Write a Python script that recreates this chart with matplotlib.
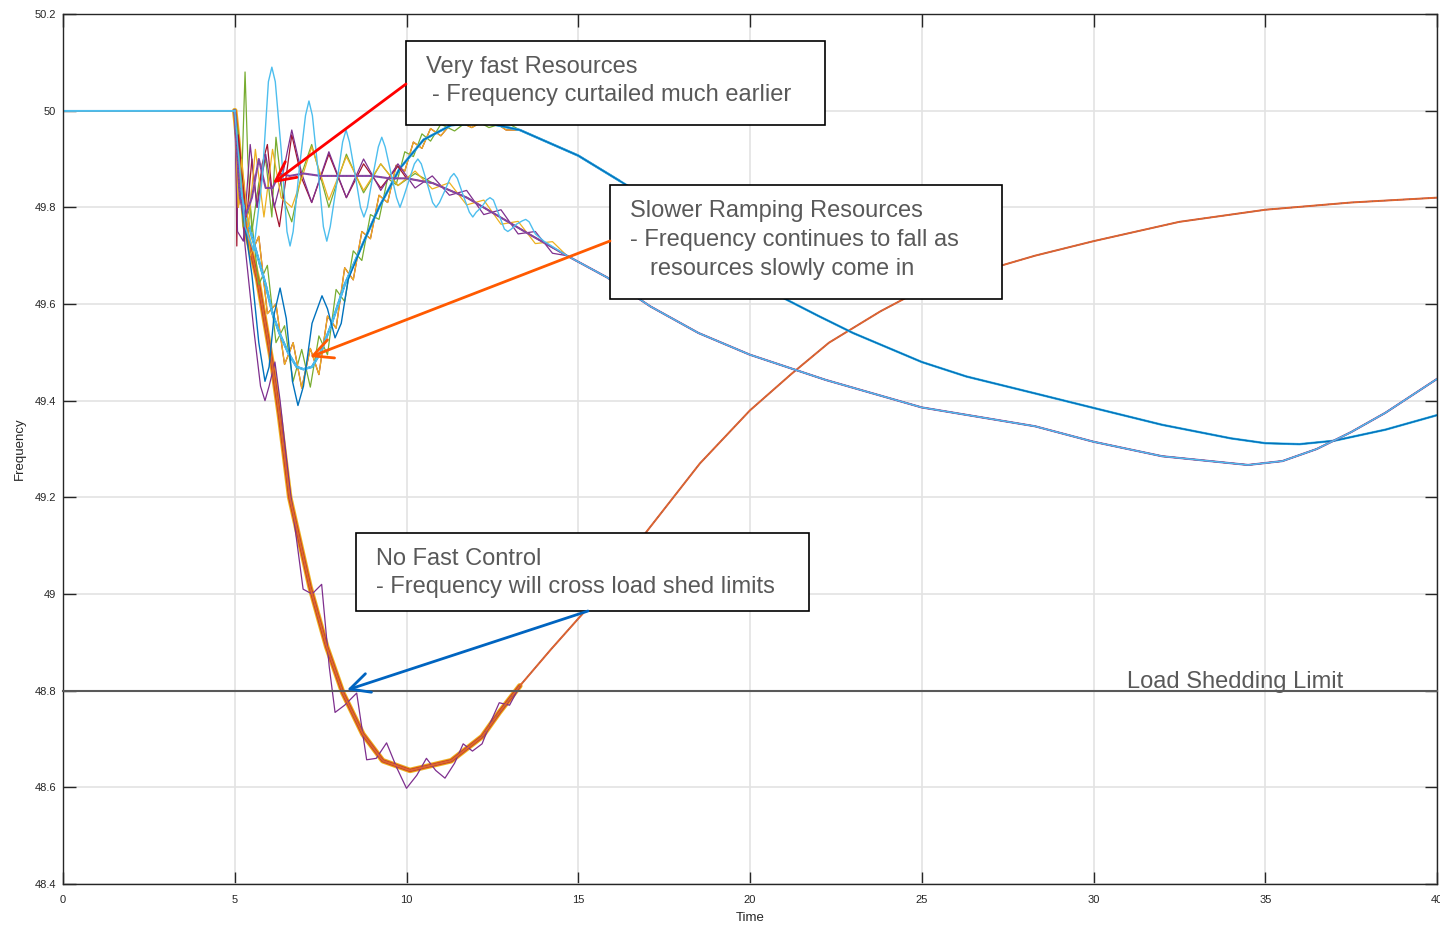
import numpy as np
import matplotlib.pyplot as plt
from matplotlib.patches import Rectangle

W, H = 1440, 925

# MATLAB default line colours
BLUE, ORANGE, YELLOW, PURPLE = '#0072BD', '#D95319', '#EDB120', '#7E2F8E'
GREEN, CYAN, DARKRED = '#77AC30', '#4DBEEE', '#A2142F'

xticks = [0, 5, 10, 15, 20, 25, 30, 35, 40]
yticks = [48.4, 48.6, 48.8, 49.0, 49.2, 49.4, 49.6, 49.8, 50.0, 50.2]
ytick_labels = ['48.4', '48.6', '48.8', '49', '49.2', '49.4', '49.6', '49.8', '50', '50.2']
shed_limit = 48.8

# --- very fast resources ---
fast_t = [0.0, 5.0, 5.05, 5.15, 5.3, 5.5, 5.7, 5.9, 6.1, 6.3, 6.6, 7.0, 7.5, 8.0, 8.5, 9.0,
          9.5, 10.0, 10.77, 11.76, 12.72, 13.68, 14.67, 15.84, 17.1, 18.5, 20.0, 22.2, 25.0,
          28.3, 30.0, 32.0, 34.5, 35.5, 36.5, 37.5, 38.5, 40.0]
fast_f = [50.0, 50.0, 49.93, 49.82, 49.78, 49.82, 49.9, 49.84, 49.84, 49.87, 49.865, 49.87,
          49.865, 49.865, 49.865, 49.865, 49.86, 49.86, 49.85, 49.82, 49.78, 49.74, 49.70,
          49.655, 49.595, 49.54, 49.495, 49.443, 49.386, 49.347, 49.315, 49.285, 49.267,
          49.275, 49.30, 49.335, 49.375, 49.445]
fast_a_t = [0.0, 5.0, 5.08, 5.25, 5.45, 5.65, 5.9, 6.15, 6.4, 6.66, 6.95, 7.24, 7.74, 8.25,
            8.75, 9.25, 9.75, 10.25, 10.75, 11.25, 11.75, 12.25, 12.75, 13.25, 13.75, 14.25,
            14.67]
fast_a_f = [50.0, 50.0, 49.75, 49.73, 49.93, 49.80, 49.91, 49.80, 49.87, 49.96, 49.87, 49.81,
            49.915, 49.82, 49.90, 49.835, 49.89, 49.84, 49.865, 49.825, 49.835, 49.785, 49.795,
            49.745, 49.75, 49.705, 49.70]
fast_b_t = [0.0, 5.0, 5.1, 5.2, 5.4, 5.6, 5.85, 6.1, 6.35, 6.66, 6.95, 7.24, 7.74, 8.25, 8.75,
            9.25, 9.75, 10.25, 10.75, 11.25, 11.75, 12.25, 12.75, 13.25, 13.75, 14.25, 14.67]
fast_b_f = [50.0, 50.0, 49.80, 49.90, 49.76, 49.92, 49.78, 49.92, 49.82, 49.80, 49.86, 49.925,
            49.815, 49.905, 49.835, 49.89, 49.845, 49.875, 49.838, 49.851, 49.805, 49.815,
            49.765, 49.771, 49.725, 49.729, 49.70]
fast_green_t = [0.0, 5.0, 5.1, 5.2, 5.3, 5.38, 5.5, 5.7, 5.9, 6.08, 6.2, 6.4, 6.66, 6.95, 7.24,
                7.74, 8.25, 8.75, 9.25, 9.75, 10.25]
fast_green_f = [50.0, 50.0, 49.88, 49.85, 50.08, 49.90, 49.75, 49.85, 49.90, 49.78, 49.945,
                49.82, 49.77, 49.87, 49.93, 49.80, 49.91, 49.83, 49.89, 49.845, 49.87]
fast_red_t = [0.0, 5.0, 5.03, 5.06, 5.1, 5.2, 5.35, 5.5, 5.65, 5.8, 5.95, 6.1, 6.3, 6.66, 6.95,
              7.24, 7.74, 8.25, 8.75, 9.25, 9.75]
fast_red_f = [50.0, 50.0, 49.98, 49.72, 49.95, 49.88, 49.78, 49.90, 49.80, 49.89, 49.93, 49.82,
              49.76, 49.95, 49.86, 49.81, 49.91, 49.82, 49.89, 49.84, 49.885]
fast_cyan_t = [0.0, 5.0, 5.12, 5.3, 5.55, 5.8, 5.98, 6.08, 6.18, 6.35, 6.52, 6.61, 6.70, 6.88,
               7.06, 7.16, 7.26, 7.42, 7.58, 7.68, 7.78, 7.96, 8.14, 8.24, 8.34, 8.50, 8.66,
               8.76, 8.86, 9.02, 9.18, 9.28, 9.38, 9.55, 9.71, 9.81, 9.91, 10.07, 10.23, 10.33,
               10.43, 10.6, 10.76, 10.86, 10.96, 11.12, 11.28, 11.38, 11.48, 11.65, 11.83,
               11.93, 12.03, 12.18, 12.33, 12.43, 12.53, 12.69, 12.85, 12.95, 13.05, 13.2,
               13.37, 13.47, 13.57, 13.75, 14.0, 14.67]
fast_cyan_f = [50.0, 50.0, 49.90, 49.76, 49.71, 49.86, 50.06, 50.09, 50.06, 49.92, 49.75, 49.72,
               49.75, 49.88, 49.99, 50.02, 49.99, 49.88, 49.76, 49.73, 49.76, 49.845, 49.935,
               49.96, 49.935, 49.87, 49.80, 49.78, 49.80, 49.865, 49.925, 49.945, 49.925, 49.87,
               49.82, 49.80, 49.82, 49.855, 49.89, 49.90, 49.89, 49.85, 49.81, 49.80, 49.81,
               49.835, 49.862, 49.87, 49.86, 49.825, 49.79, 49.78, 49.79, 49.80, 49.815, 49.82,
               49.815, 49.785, 49.755, 49.75, 49.755, 49.765, 49.772, 49.775, 49.77, 49.745,
               49.73, 49.70]

# --- slower ramping resources ---
slow_t = [0.0, 5.0, 5.08, 5.2, 5.35, 5.5, 5.7, 5.9, 6.1, 6.3, 6.55, 6.8, 7.0, 7.25, 7.5, 7.8,
          8.2, 8.7, 9.2, 9.8, 10.5, 11.3, 12.3, 13.3, 15.0, 16.2, 17.0, 18.0, 19.0, 20.0, 20.9,
          22.0, 23.0, 24.0, 25.0, 26.3, 28.3, 30.0, 32.0, 34.0, 35.0, 36.0, 37.0, 38.5, 40.0]
slow_f = [50.0, 50.0, 49.9, 49.82, 49.78, 49.74, 49.69, 49.64, 49.58, 49.54, 49.50, 49.47,
          49.465, 49.47, 49.50, 49.555, 49.64, 49.72, 49.80, 49.88, 49.94, 49.97, 49.975,
          49.96, 49.907, 49.855, 49.82, 49.77, 49.72, 49.67, 49.615, 49.575, 49.54, 49.51,
          49.48, 49.45, 49.415, 49.385, 49.35, 49.322, 49.312, 49.31, 49.317, 49.34, 49.37]
slow_lobe_t = [0.0, 5.0, 5.1, 5.25, 5.45, 5.7, 5.95, 6.2, 6.45, 6.7, 6.95, 7.2, 7.45, 7.7,
               7.95, 8.2, 8.45, 8.7, 8.95, 9.2, 9.45, 9.7, 9.95, 10.2, 10.45, 10.7, 11.0, 11.4,
               11.9, 12.4, 12.9, 13.3]
slow_a_f = [50.0, 50.0, 49.80, 49.86, 49.70, 49.74, 49.58, 49.60, 49.475, 49.52, 49.426,
            49.508, 49.454, 49.575, 49.55, 49.675, 49.65, 49.75, 49.735, 49.825, 49.81, 49.887,
            49.875, 49.935, 49.922, 49.963, 49.948, 49.982, 49.965, 49.985, 49.96, 49.96]
slow_b_f = [50.0, 50.0, 49.95, 49.76, 49.80, 49.64, 49.68, 49.52, 49.555, 49.44, 49.506,
            49.428, 49.534, 49.495, 49.63, 49.605, 49.71, 49.69, 49.785, 49.775, 49.86, 49.847,
            49.915, 49.905, 49.952, 49.937, 49.972, 49.958, 49.985, 49.965, 49.976, 49.96]
slow_blue_t = [0.0, 5.0, 5.1, 5.3, 5.5, 5.7, 5.88, 6.0, 6.15, 6.32, 6.5, 6.68, 6.84, 7.0, 7.25,
               7.54, 7.7, 7.92, 8.1, 8.3, 8.7]
slow_blue_f = [50.0, 50.0, 49.85, 49.76, 49.66, 49.52, 49.44, 49.47, 49.58, 49.633, 49.57,
               49.44, 49.39, 49.43, 49.56, 49.617, 49.59, 49.53, 49.56, 49.65, 49.72]

# --- no fast control ---
nofast_t = [0.0, 5.0, 5.1, 5.3, 5.67, 6.08, 6.3, 6.6, 7.19, 7.68, 8.15, 8.73, 9.31, 10.1, 11.3,
            12.2, 12.7, 13.3, 14.2, 15.2, 16.1, 17.0, 18.54, 20.0, 21.2, 22.3, 23.8, 24.6,
            26.0, 27.0, 28.3, 30.0, 32.5, 35.0, 37.5, 40.0]
nofast_f = [50.0, 50.0, 49.93, 49.76, 49.65, 49.48, 49.37, 49.2, 49.015, 48.89, 48.795, 48.71,
            48.655, 48.635, 48.655, 48.705, 48.755, 48.81, 48.885, 48.965, 49.046, 49.13, 49.27,
            49.38, 49.455, 49.52, 49.585, 49.615, 49.65, 49.673, 49.70, 49.73, 49.77, 49.795,
            49.81, 49.82]
nofast_purple_t = [0.0, 5.0, 5.1, 5.3, 5.55, 5.75, 5.88, 6.0, 6.17, 6.32, 6.6, 6.99, 7.25, 7.53,
                   7.75, 7.92, 8.2, 8.55, 8.84, 9.12, 9.42, 9.72, 10.0, 10.3, 10.58, 10.85,
                   11.12, 11.4, 11.65, 11.92, 12.2, 12.45, 12.7, 13.0, 13.3]
nofast_purple_f = [50.0, 50.0, 49.9, 49.72, 49.55, 49.43, 49.40, 49.43, 49.48, 49.40, 49.22,
                   49.01, 49.0, 49.02, 48.85, 48.755, 48.77, 48.795, 48.657, 48.66, 48.692,
                   48.64, 48.598, 48.625, 48.66, 48.635, 48.619, 48.65, 48.69, 48.675, 48.69,
                   48.735, 48.775, 48.77, 48.81]


def with_tail(t, f, base_t, base_f):
    # continue a short oscillating trace along its family's main curve
    base_t = np.asarray(base_t)
    base_f = np.asarray(base_f)
    keep = base_t > t[-1]
    return np.concatenate([t, base_t[keep]]), np.concatenate([f, base_f[keep]])


def span(t, f, t0, t1):
    t = np.asarray(t)
    keep = (t >= t0) & (t <= t1)
    return t[keep], np.asarray(f)[keep]


fig = plt.figure(figsize=(W / 100, H / 100), dpi=100)
ax = fig.add_axes([63 / W, 1 - 884 / H, (1437 - 63) / W, (884 - 14) / H])

lw = 0.9

# no fast control: thick multi-coloured bundle while it still oscillates
for c, w in [(YELLOW, 4.0), (ORANGE, 2.6), (DARKRED, 1.4), (BLUE, 0.8), (CYAN, 0.5)]:
    ax.plot(*span(nofast_t, nofast_f, 5.0, 13.3), color=c, lw=w, solid_capstyle='round')
ax.plot(*with_tail(nofast_purple_t, nofast_purple_f, nofast_t, nofast_f), color=PURPLE, lw=lw)
ax.plot(*span(nofast_t, nofast_f, 5.0, 40), color='#E0652E', lw=1.4)
ax.plot(*span(nofast_t, nofast_f, 12.0, 40), color=BLUE, lw=0.6, dashes=(0.5, 7.0))

# slower ramping resources
for c, f in [(DARKRED, slow_a_f), (GREEN, slow_b_f), (YELLOW, slow_a_f)]:
    ax.plot(*with_tail(slow_lobe_t, f, slow_t, slow_f), color=c, lw=lw)
ax.plot(*span(slow_t, slow_f, 5.0, 16.5), color=BLUE, lw=1.6)
ax.plot(*span(slow_t, slow_f, 5.0, 40), color=CYAN, lw=1.7)
ax.plot(*span(slow_t, slow_f, 5.0, 40), color=BLUE, lw=0.6, dashes=(0.5, 5.0))
ax.plot(*with_tail(slow_blue_t, slow_blue_f, slow_t, slow_f), color=BLUE, lw=1.0)

# very fast resources
ax.plot(*with_tail(fast_green_t, fast_green_f, fast_t, fast_f), color=GREEN, lw=lw)
ax.plot(*with_tail(fast_red_t, fast_red_f, fast_t, fast_f), color=DARKRED, lw=lw)
ax.plot(*with_tail(fast_a_t, fast_a_f, fast_t, fast_f), color=PURPLE, lw=lw)
ax.plot(*with_tail(fast_b_t, fast_b_f, fast_t, fast_f), color=YELLOW, lw=lw)
ax.plot(*span(fast_t, fast_f, 5.0, 40), color='#8E44A0', lw=1.5)
ax.plot(*span(fast_t, fast_f, 5.0, 40), color=BLUE, lw=0.6, dashes=(0.6, 4.0))
ax.plot(*with_tail(fast_cyan_t, fast_cyan_f, fast_t, fast_f), color=CYAN, lw=1.0)
ax.plot(*span(fast_cyan_t, fast_cyan_f, 0, 5.0), color=CYAN, lw=1.2)

ax.axhline(shed_limit, color='#595959', lw=1.5, zorder=4, clip_on=False)

ax.set_xlim(0, 40)
ax.set_ylim(48.4, 50.2)
ax.set_xticks(xticks)
ax.set_xticklabels([str(x) for x in xticks])
ax.set_yticks(yticks)
ax.set_yticklabels(ytick_labels)
ax.grid(True, color='#e3e3e3', lw=1.2)
ax.set_axisbelow(True)
ax.tick_params(direction='in', length=9, width=1.0, color='#262626', labelcolor='#262626',
               labelsize=8, top=True, right=True)
ax.tick_params(axis='x', pad=8)
ax.tick_params(axis='y', pad=5)
for lab in ax.get_xticklabels() + ax.get_yticklabels():
    lab.set_family('Liberation Sans')
for s in ax.spines.values():
    s.set_color('#262626')
    s.set_linewidth(1.0)
ax.set_xlabel('Time', fontsize=9.5, family='Liberation Sans', color='#262626', labelpad=5)
ax.set_ylabel('Frequency', fontsize=9.5, family='Liberation Sans', color='#262626', labelpad=6)


def fig_xy(px, py):
    return px / W, 1 - py / H


# annotation boxes
for x0, y0, x1, y1 in [(406, 41, 825, 125), (610, 185, 1002, 299), (356, 533, 809, 611)]:
    fx0, fy1 = fig_xy(x0, y1)
    box = Rectangle((fx0, fy1), (x1 - x0) / W, (y1 - y0) / H, transform=fig.transFigure,
                    facecolor='white', edgecolor='black', lw=1.2, zorder=6)
    ax.add_patch(box)

text_kw = dict(fontsize=17, family='Liberation Sans', color='#595959', va='center', zorder=7)
for px, py, s in [(426, 67, 'Very fast Resources'),
                  (432, 95, '- Frequency curtailed much earlier'),
                  (630, 211, 'Slower Ramping Resources'),
                  (630, 240, '- Frequency continues to fall as'),
                  (650, 269, 'resources slowly come in'),
                  (376, 559, 'No Fast Control'),
                  (376, 587, '- Frequency will cross load shed limits'),
                  (1127, 682, 'Load Shedding Limit')]:
    fig.text(*fig_xy(px, py), s, **text_kw)

# arrows
for start, end, c in [((406, 84), (273, 183), '#FF0000'),
                      ((610, 241), (310, 357), '#FF5A00'),
                      ((588, 611), (347, 690), '#0064C0')]:
    ax.annotate('', xy=fig_xy(*end), xytext=fig_xy(*start), xycoords='figure fraction',
                textcoords='figure fraction', zorder=8,
                arrowprops=dict(arrowstyle='->,head_length=0.7,head_width=0.35', color=c,
                                lw=2.0, mutation_scale=20, shrinkA=0, shrinkB=0))

fig.savefig('out.png', dpi=100)
